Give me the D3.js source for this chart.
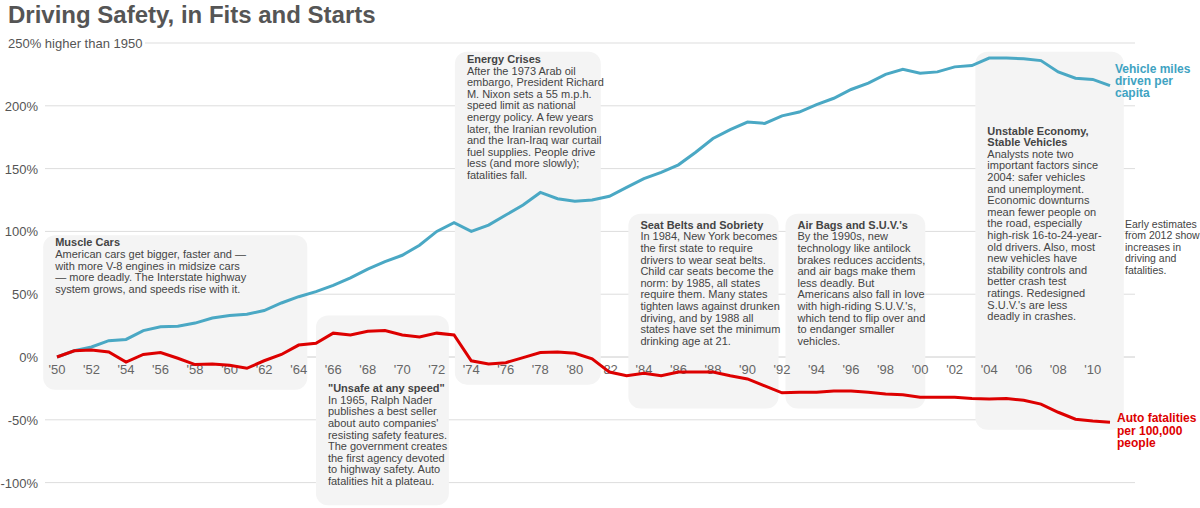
<!DOCTYPE html>
<html><head><meta charset="utf-8">
<script src="https://cdn.jsdelivr.net/npm/d3@7"></script>
<style>body{margin:0;background:#fff;font-family:"Liberation Sans",Arial,sans-serif}</style>
</head><body><svg id="c" width="1200" height="508"></svg>
<script>
const years = d3.range(1950, 2012);
const milesDriven = [0,5,8,13,14,21,24,24.5,27,31,33,34,37,43,48,52,57,63,70,76,81,89,100,107,100,105,113,121,131,126,124,125,128,135,142,147,153,163,174,181,187,186,192,195,201,206,213,218,225,229,226,227,231,232,238,238,237.5,236,227,222,221,216];
const fatalities = [0,5,5.5,4,-4,2,3.5,-1,-6,-5.5,-6.5,-9,-3,2,9.5,11,19,17.5,20.5,21,17.5,16,19,17.5,-3,-5.5,-4.5,-0.5,3.5,4,3,-1.5,-12,-15,-13,-15,-12,-12,-12,-15,-17.5,-23,-28.5,-28,-28,-27,-27,-28,-29.5,-30,-32,-32,-32,-33,-33.5,-33,-34.5,-37.5,-44,-49.5,-51,-52];
const yTicks = [250,200,150,100,50,0,-50,-100];
const xTickYears = d3.range(1950, 2011, 2);
const annotations = [
 {x0:1949.2,x1:1964.5,y0:97,y1:-26,ty:88,title:"Muscle Cars",lines:["American cars get bigger, faster and —","with more V-8 engines in midsize cars","— more deadly. The Interstate highway","system grows, and speeds rise with it."]},
 {x0:1965,x1:1972.7,y0:33,y1:-118,ty:-28,title:"\"Unsafe at any speed\"",lines:["In 1965, Ralph Nader","publishes a best seller","about auto companies'","resisting safety features.","The government creates","the first agency devoted","to highway safety. Auto","fatalities hit a plateau."]},
 {x0:1973.05,x1:1981.5,y0:243,y1:-22,ty:234,title:"Energy Crises",lines:["After the 1973 Arab oil","embargo, President Richard","M. Nixon sets a 55 m.p.h.","speed limit as national","energy policy. A few years","later, the Iranian revolution","and the Iran-Iraq war curtail","fuel supplies. People drive","less (and more slowly);","fatalities fall."]},
 {x0:1983.1,x1:1991.8,y0:114,y1:-41,ty:102,title:"Seat Belts and Sobriety",lines:["In 1984, New York becomes","the first state to require","drivers to wear seat belts.","Child car seats become the","norm: by 1985, all states","require them. Many states","tighten laws against drunken","driving, and by 1988 all","states have set the minimum","drinking age at 21."]},
 {x0:1992.2,x1:2000.3,y0:114,y1:-41,ty:102,title:"Air Bags and S.U.V.'s",lines:["By the 1990s, new","technology like antilock","brakes reduces accidents,","and air bags make them","less deadly. But","Americans also fall in love","with high-riding S.U.V.'s,","which tend to flip over and","to endanger smaller","vehicles."]},
 {x0:2003.2,x1:2011.8,y0:243,y1:-58,ty:177,title:"Unstable Economy,|Stable Vehicles",lines:["Analysts note two","important factors since","2004: safer vehicles","and unemployment.","Economic downturns","mean fewer people on","the road, especially","high-risk 16-to-24-year-","old drivers. Also, most","new vehicles have","stability controls and","better crash test","ratings. Redesigned","S.U.V.'s are less","deadly in crashes."]}
];
const svg = d3.select("#c");
const x = d3.scaleLinear().domain([1950, 2011]).range([57, 1110]);
const y = d3.scaleLinear().domain([0, 250]).range([357, 43]);
yTicks.forEach(t=>{
  svg.append("line").attr("x1", t===250?145:45).attr("x2",1135).attr("y1",y(t)).attr("y2",y(t))
    .attr("stroke",t===0?"#ccc":"#ddd").attr("stroke-width",1);
  svg.append("text").attr("x",t===250?8:38).attr("y",y(t)+5).attr("text-anchor",t===250?"start":"end")
    .attr("font-size",13).attr("fill","#555").text(t===250?"250% higher than 1950":t+"%");
});
annotations.forEach(a=>{
  svg.append("rect").attr("x",x(a.x0)).attr("y",y(a.y0)).attr("width",x(a.x1)-x(a.x0)).attr("height",y(a.y1)-y(a.y0))
    .attr("rx",12).attr("fill","#f4f4f4");
});
xTickYears.forEach(yr=>{
  svg.append("text").attr("x",x(yr)).attr("y",374).attr("text-anchor","middle").attr("font-size",13).attr("fill","#666")
    .text("'"+String(yr%100).padStart(2,"0"));
});
annotations.forEach(a=>{
  const t = svg.append("text").attr("x",x(a.x0)+12).attr("y",y(a.ty)).attr("font-size",11).attr("fill","#444");
  const tl = a.title.split("|");
  tl.forEach((s,i)=>t.append("tspan").attr("x",x(a.x0)+12).attr("dy",i?11.6:0).attr("font-weight","bold").text(s));
  a.lines.forEach(s=>t.append("tspan").attr("x",x(a.x0)+12).attr("dy",11.6).text(s));
});
const line = d3.line().x((d,i)=>x(years[i])).y(d=>y(d));
svg.append("path").datum(milesDriven).attr("d",line).attr("fill","none").attr("stroke","#4aa8c4").attr("stroke-width",3);
svg.append("path").datum(fatalities).attr("d",line).attr("fill","none").attr("stroke","#dd0000").attr("stroke-width",3);
const lab=(lines,xx,yy,col,bold,fs,lh)=>{const t=svg.append("text").attr("x",xx).attr("y",yy).attr("fill",col).attr("font-size",fs).attr("font-weight",bold?"bold":"normal");
 lines.forEach((s,i)=>t.append("tspan").attr("x",xx).attr("dy",i?lh:0).text(s));};
lab(["Vehicle miles","driven per","capita"],1115,y(216)-13,"#3fa3c2",true,12,12.2);
lab(["Auto fatalities","per 100,000","people"],1117,y(-52),"#dd0000",true,12,12.2);
lab(["Early estimates","from 2012 show","increases in","driving and","fatalities."],1125,y(103),"#444",false,10.5,11.6);
svg.append("text").attr("x",8).attr("y",23).attr("font-size",24).attr("font-weight","bold").attr("fill","#555").text("Driving Safety, in Fits and Starts");
</script></body></html>
